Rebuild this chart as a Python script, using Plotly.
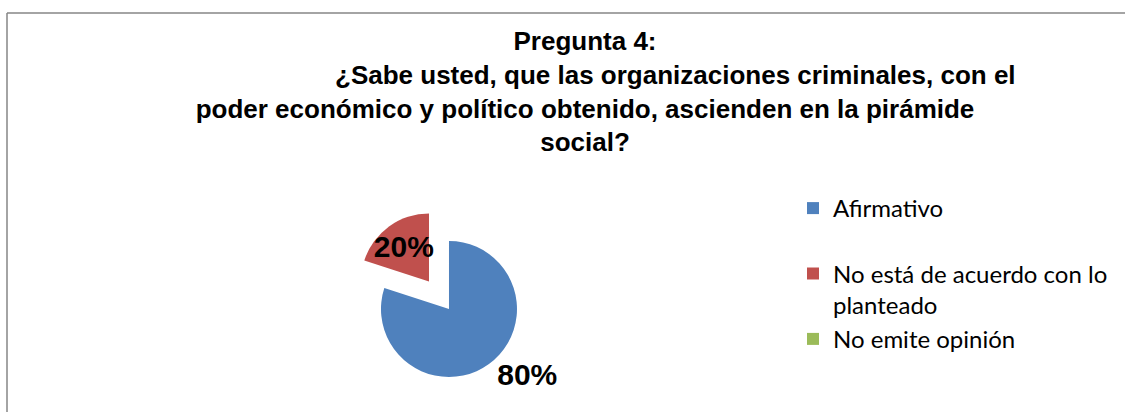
import plotly.graph_objects as go

# ---- data ----
labels = ["Afirmativo", "No está de acuerdo con lo<br>planteado", "No emite opinión"]
values = [80, 20, 0]
colors = ["#4F81BD", "#C0504D", "#9BBB59"]
title_lines = [
    "Pregunta 4:",
    "¿Sabe usted, que las organizaciones criminales, con el",
    "poder económico y político obtenido, ascienden en la pirámide",
    "social?",
]

W, H = 1125, 412

# legend spacing: extra blank line after first entry (layout only)
legend_labels = [labels[0] + "<br> "] + labels[1:]

title_text = "<br>".join([
    title_lines[0],
    "\u00a0" * 25 + title_lines[1],
    title_lines[2],
    title_lines[3],
])

fig = go.Figure()
fig.add_trace(go.Pie(
    labels=legend_labels,
    values=values,
    sort=False,
    direction="clockwise",
    rotation=0,
    pull=[0, 0.5, 0],
    marker=dict(colors=colors, line=dict(width=0)),
    textinfo="percent",
    textposition=["outside", "inside", "none"],
    insidetextorientation="horizontal",
    textfont=dict(family="Liberation Sans", size=30, color="black", weight="bold"),
    domain=dict(x=[0.3084, 0.4898], y=[0.0024, 0.4976]),
    hoverinfo="label+percent",
))

bx, by = 7 / W, 1 - 13 / H
fig.update_layout(
    width=W, height=H,
    margin=dict(l=0, r=0, t=0, b=0, autoexpand=False),
    paper_bgcolor="white",
    plot_bgcolor="white",
    title=dict(
        text=title_text,
        x=585 / W, xanchor="center",
        y=1 - 50 / H, yanchor="top", yref="container",
        font=dict(family="Liberation Sans", size=26, color="black", weight="bold"),
    ),
    uniformtext=dict(minsize=30, mode="show"),
    showlegend=True,
    legend=dict(
        x=793 / W, xanchor="left",
        y=1 - 186 / H, yanchor="top",
        valign="top",
        font=dict(family="Lato", size=24, color="black"),
        bgcolor="rgba(0,0,0,0)",
    ),
    shapes=[
        dict(type="line", xref="paper", yref="paper", x0=bx, x1=1, y0=by, y1=by,
             line=dict(color="#868686", width=1.5), layer="below"),
        dict(type="line", xref="paper", yref="paper", x0=bx, x1=bx, y0=0, y1=by,
             line=dict(color="#868686", width=1.5), layer="below"),
    ],
)

fig.write_html(
    "out.html",
    config={"displayModeBar": False},
    post_script="document.body.style.margin='0';document.body.style.overflow='hidden';",
)
